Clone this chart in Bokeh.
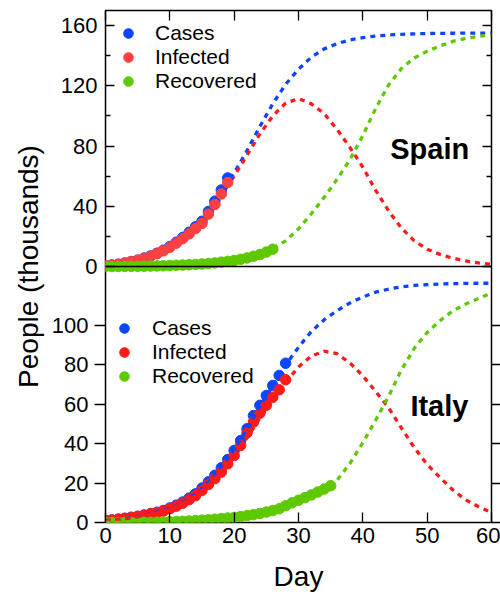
from bokeh.plotting import figure
from bokeh.models import (Range1d, LinearAxis, FixedTicker, Legend, LegendItem,
                          Label, Span)
from bokeh.embed import file_html
from bokeh.resources import INLINE

FONT = "Liberation Sans"

# ---------------- data ----------------
x_ticks = [0, 10, 20, 30, 40, 50, 60]
spain_ticks = [0, 40, 80, 120, 160]
spain_minor = [20, 60, 100, 140]
italy_ticks = [0, 20, 40, 60, 80, 100]
spain_top = 170
italy_top = 130

# observed data (daily)
spain_days = list(range(0, 20))
spain_cases = [0.6, 1.0, 1.5, 2.3, 3.3, 4.2, 5.6, 7.0, 8.8, 10.8, 13.3, 16.1,
               19.3, 22.7, 26.4, 30.0, 36.6, 43.4, 50.8, 58.8]
spain_infected = [0.6, 1.0, 1.5, 2.2, 3.2, 4.1, 5.4, 6.8, 8.5, 10.4, 12.8, 15.5,
                  18.5, 21.7, 25.2, 28.6, 34.8, 41.2, 48.2, 55.8]
spain_rec_days = list(range(0, 27))
spain_recovered = [0, 0, 0, 0.05, 0.1, 0.15, 0.2, 0.3, 0.4, 0.5, 0.6, 0.8, 1.0,
                   1.2, 1.4, 1.7, 2.0, 2.4, 2.9, 3.4, 4.0, 4.8, 5.7, 6.8, 8.0,
                   9.6, 11.5]

italy_days = list(range(0, 29))
italy_cases = [1.0, 1.3, 1.7, 2.1, 2.6, 3.1, 3.8, 4.5, 5.2, 6.1, 7.4, 8.8, 10.4,
               12.4, 14.6, 17.5, 20.7, 24.0, 27.8, 32.0, 36.6, 41.6, 47.6, 54.3,
               59.5, 64.5, 69.6, 74.7, 80.9]
italy_infected = [1.0, 1.3, 1.7, 2.1, 2.6, 3.1, 3.7, 4.4, 5.0, 5.8, 7.0, 8.3,
                  9.8, 11.6, 13.6, 16.3, 19.3, 22.3, 25.6, 29.8, 34.0, 39.1,
                  45.5, 51.0, 55.5, 59.5, 63.6, 67.4, 72.5]
italy_rec_days = list(range(0, 36))
italy_recovered = [0, 0, 0, 0, 0, 0.05, 0.1, 0.1, 0.2, 0.3, 0.4, 0.5, 0.6, 0.8,
                   1.0, 1.2, 1.4, 1.7, 2.0, 2.3, 2.6, 3.0, 3.5, 4.0, 4.6, 5.3,
                   6.1, 7.0, 8.5, 10.0, 11.3, 12.6, 14.0, 15.5, 17.0, 18.7]

# model curves (every 2 days)
model_days = list(range(0, 61, 2))
spain_cases_fit = [0.5, 1.5, 3.2, 5.5, 8.7, 13.0, 19.0, 26.0, 36.0, 50.0, 62.0,
                   77.0, 93.0, 108.0, 121.0, 131.0, 139.0, 144.5, 148.0, 150.5,
                   152.0, 153.0, 153.7, 154.2, 154.5, 154.7, 154.8, 154.9,
                   155.0, 155.0, 155.0]
spain_infected_fit = [0.5, 1.5, 3.1, 5.2, 8.2, 12.3, 17.8, 24.5, 33.5, 47.0,
                      60.0, 74.0, 88.0, 100.0, 108.5, 111.5, 108.0, 101.5,
                      91.0, 79.0, 66.0, 50.5, 37.0, 25.5, 17.0, 11.5, 8.0, 5.5,
                      3.7, 2.4, 1.5]
spain_recovered_fit = [0.0, 0.0, 0.1, 0.2, 0.4, 0.6, 1.0, 1.4, 2.0, 2.9, 4.0,
                       5.7, 8.0, 12.0, 17.0, 25.0, 35.0, 46.0, 58.0, 71.0,
                       87.0, 105.0, 120.5, 131.5, 138.5, 143.0, 146.5, 149.5,
                       151.5, 152.8, 153.7]
italy_cases_fit = [1.0, 1.6, 2.5, 3.7, 5.2, 7.2, 10.2, 14.4, 20.5, 28.0, 37.0,
                   47.5, 59.0, 69.5, 80.0, 89.0, 97.0, 103.0, 107.6, 111.5,
                   114.5, 117.0, 118.5, 119.7, 120.4, 120.8, 121.1, 121.3,
                   121.4, 121.5, 121.5]
italy_infected_fit = [1.0, 1.6, 2.4, 3.5, 4.8, 6.8, 9.6, 13.5, 19.0, 25.8,
                      33.5, 43.0, 53.0, 62.0, 71.0, 79.0, 84.5, 87.0, 85.7,
                      81.0, 74.5, 66.5, 58.3, 48.0, 38.0, 29.5, 22.8, 16.5,
                      11.5, 8.0, 5.0]
italy_recovered_fit = [0.0, 0.0, 0.0, 0.1, 0.2, 0.4, 0.6, 1.0, 1.4, 2.0, 2.6,
                       3.5, 4.6, 6.1, 8.5, 11.3, 14.0, 17.0, 21.5, 30.0, 40.5,
                       52.0, 64.0, 77.5, 88.5, 96.5, 102.5, 107.5, 111.0,
                       113.8, 116.5]

series_labels = ["Cases", "Infected", "Recovered"]
BLUE = "#0a46ff"
RED = "#ff1a1a"
RED_SP = "#ff4040"
GREEN = "#5ec800"

# ---------------- figure ----------------
p = figure(width=500, height=598, output_backend="svg", toolbar_location=None,
           title=None, x_range=Range1d(0, 60), y_range=Range1d(0, 2 * italy_top),
           x_axis_location=None, y_axis_location=None,
           min_border_left=105, min_border_right=9, min_border_top=10,
           min_border_bottom=76)
p.extra_y_ranges = {"spain": Range1d(-spain_top, spain_top)}
p.grid.visible = False
p.outline_line_color = "black"
p.outline_line_width = 1.5
p.background_fill_color = "white"
p.border_fill_color = "white"


def style_ticks(ax):
    ax.axis_line_color = None
    ax.major_tick_line_color = "black"
    ax.minor_tick_line_color = "black"
    ax.major_tick_line_width = 1.3
    ax.minor_tick_line_width = 1.3
    ax.major_label_text_font = FONT
    ax.major_label_text_font_size = "22px"
    ax.major_label_text_color = "black"
    ax.axis_label_text_font = FONT
    ax.axis_label_text_font_style = "normal"
    ax.axis_label_text_font_size = "28px"
    ax.axis_label_text_color = "black"


# left 1 (next to frame): Spain ticks pointing inward, no labels
ax_sp_t = LinearAxis(y_range_name="spain",
                     ticker=FixedTicker(ticks=spain_ticks, minor_ticks=spain_minor))
style_ticks(ax_sp_t)
ax_sp_t.major_tick_in = 9
ax_sp_t.major_tick_out = 0
ax_sp_t.minor_tick_in = 5
ax_sp_t.minor_tick_out = 0
ax_sp_t.major_label_standoff = 0
ax_sp_t.major_label_text_color = None
p.add_layout(ax_sp_t, "left")

# left 2: Italy ticks pointing outward + labels
ax_it = LinearAxis(ticker=FixedTicker(ticks=italy_ticks))
style_ticks(ax_it)
ax_it.major_tick_in = 0
ax_it.major_tick_out = 11
ax_it.minor_tick_in = 0
ax_it.minor_tick_out = 0
ax_it.major_label_standoff = 6
p.add_layout(ax_it, "left")

# left 3: Spain labels (pulled back toward the frame) + axis title
ax_sp_l = LinearAxis(y_range_name="spain", ticker=FixedTicker(ticks=spain_ticks))
style_ticks(ax_sp_l)
ax_sp_l.major_tick_in = 0
ax_sp_l.major_tick_out = 0
ax_sp_l.minor_tick_in = 0
ax_sp_l.minor_tick_out = 0
ax_sp_l.major_tick_line_color = None
ax_sp_l.minor_tick_line_color = None
ax_sp_l.major_label_standoff = -49
ax_sp_l.axis_label = "People (thousands)"
ax_sp_l.axis_label_standoff = 14
p.add_layout(ax_sp_l, "left")

# right side: Spain ticks inward, Italy ticks outward
ax_sp_r = LinearAxis(y_range_name="spain",
                     ticker=FixedTicker(ticks=spain_ticks, minor_ticks=spain_minor))
style_ticks(ax_sp_r)
ax_sp_r.major_tick_in = 9
ax_sp_r.major_tick_out = 0
ax_sp_r.minor_tick_in = 5
ax_sp_r.minor_tick_out = 0
ax_sp_r.major_label_standoff = 0
ax_sp_r.major_label_text_color = None
p.add_layout(ax_sp_r, "right")

ax_it_r = LinearAxis(ticker=FixedTicker(ticks=italy_ticks))
style_ticks(ax_it_r)
ax_it_r.major_tick_in = 0
ax_it_r.major_tick_out = 9
ax_it_r.minor_tick_in = 0
ax_it_r.minor_tick_out = 0
ax_it_r.major_label_standoff = 0
ax_it_r.major_label_text_color = None
p.add_layout(ax_it_r, "right")

# top axis (ticks only)
ax_top = LinearAxis(ticker=FixedTicker(ticks=x_ticks))
style_ticks(ax_top)
ax_top.major_tick_in = 10
ax_top.major_tick_out = 0
ax_top.minor_tick_in = 0
ax_top.minor_tick_out = 0
ax_top.major_label_standoff = 0
ax_top.major_label_text_color = None
p.add_layout(ax_top, "above")

# bottom axis
ax_bot = LinearAxis(ticker=FixedTicker(ticks=x_ticks))
style_ticks(ax_bot)
ax_bot.major_tick_in = 10
ax_bot.major_tick_out = 0
ax_bot.minor_tick_in = 0
ax_bot.minor_tick_out = 0
ax_bot.major_label_standoff = 5
ax_bot.axis_label = "Day"
ax_bot.axis_label_standoff = 15
p.add_layout(ax_bot, "below")

# panel divider
p.add_layout(Span(location=italy_top, dimension="width", line_color="black",
                  line_width=1.5))

LW = 3.3
DASH = "5 5"

# ---- Spain: model lines below dots ----
p.line(model_days, spain_cases_fit, y_range_name="spain", line_color=BLUE,
       line_width=LW, line_dash=DASH)
p.line(model_days, spain_infected_fit, y_range_name="spain", line_color=RED,
       line_width=LW, line_dash=DASH)
p.line(model_days, spain_recovered_fit, y_range_name="spain", line_color=GREEN,
       line_width=LW, line_dash=DASH)
r_sc = p.scatter(spain_days, spain_cases, y_range_name="spain", size=10.5,
                 color=BLUE)
r_si = p.scatter(spain_days, spain_infected, y_range_name="spain", size=10.5,
                 color=RED_SP)
r_sr = p.scatter(spain_rec_days, spain_recovered, y_range_name="spain",
                 size=10.5, color=GREEN)

# ---- Italy: dots then model lines ----
r_ic = p.scatter(italy_days, italy_cases, size=10.5, color=BLUE)
r_ii = p.scatter(italy_days, italy_infected, size=10.5, color=RED)
r_ir = p.scatter(italy_rec_days, italy_recovered, size=10.5, color=GREEN)
p.line(model_days, italy_cases_fit, line_color=BLUE, line_width=LW,
       line_dash=DASH)
p.line(model_days, italy_infected_fit, line_color=RED, line_width=LW,
       line_dash=DASH)
p.line(model_days, italy_recovered_fit, line_color=GREEN, line_width=LW,
       line_dash=DASH)


def make_legend(renderers, loc, standoff):
    leg = Legend(items=[LegendItem(label=lab, renderers=[r])
                        for lab, r in zip(series_labels, renderers)],
                 location=loc)
    leg.glyph_width = 24
    leg.glyph_height = 24
    leg.spacing = 0
    leg.padding = 0
    leg.margin = 0
    leg.label_height = 20
    leg.border_line_color = None
    leg.background_fill_alpha = 0
    leg.label_text_font = FONT
    leg.label_text_font_size = "21px"
    leg.label_text_line_height = 1.0
    leg.label_text_color = "black"
    leg.label_standoff = standoff
    return leg


p.add_layout(make_legend([r_sc, r_si, r_sr], (11, 429), 15))
p.add_layout(make_legend([r_ic, r_ii, r_ir], (7, 134), 16))

p.add_layout(Label(x=50.4, y=78, y_range_name="spain", text="Spain",
                   text_font=FONT, text_font_style="bold",
                   text_font_size="29px", text_align="center",
                   text_baseline="middle", text_color="black"))
p.add_layout(Label(x=51.9, y=59, text="Italy",
                   text_font=FONT, text_font_style="bold",
                   text_font_size="29px", text_align="center",
                   text_baseline="middle", text_color="black"))

open("out.html", "w").write(file_html(p, INLINE))
